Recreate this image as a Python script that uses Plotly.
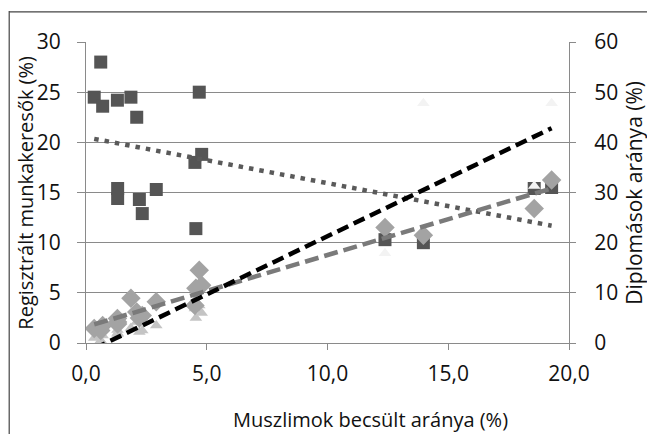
import numpy as np
import plotly.graph_objects as go

# --- data -------------------------------------------------------------
muszlim_x = [0.34, 0.61, 0.69, 1.30, 1.31, 1.31, 1.86, 2.10, 2.21, 2.33,
             2.91, 4.51, 4.55, 4.69, 4.79, 12.38, 13.97, 18.56, 19.28]
munkakereso = [24.5, 28.0, 23.6, 24.2, 15.4, 14.4, 24.5, 22.5, 14.3, 12.9,
               15.3, 18.0, 11.4, 25.0, 18.8, 10.3, 10.0, 15.4, 15.5]
diplomas_a = [2.9, 2.5, 3.5, 4.9, 3.8, 4.2, 8.9, 6.2, 5.0, 5.5,
              8.2, 7.5, 10.9, 14.5, 11.5, 23.0, 21.5, 26.8, 32.5]
diplomas_b = [1.0, 0.5, 1.5, 2.6, 1.8, 2.0, 3.0, 4.2, 2.2, 2.5,
              3.5, 6.9, 5.0, 7.5, 6.0, 17.9, 47.8, 31.3, 47.8]

x_ticks = [0, 5, 10, 15, 20]

x_title = "Muszlimok becsült aránya (%)"
y_title = "Regisztrált munkakeresők (%)"
y2_title = "Diplomások aránya (%)"

FONT = "Open Sans"


def trend(xs, ys):
    xs = np.asarray(xs, float)
    ys = np.asarray(ys, float)
    k, b = np.polyfit(xs, ys, 1)
    xx = np.array([xs.min(), xs.max()])
    return xx, k * xx + b


fig = go.Figure()

fig.add_trace(go.Scatter(
    x=muszlim_x, y=diplomas_b, yaxis="y2", mode="markers",
    marker=dict(symbol="triangle-up", size=11,
                color=["#c4c4c4" if v < 10 else "#f3f3f3" for v in muszlim_x],
                line=dict(width=0)),
    showlegend=False))
fig.add_trace(go.Scatter(
    x=muszlim_x, y=diplomas_a, yaxis="y2", mode="markers",
    marker=dict(symbol="diamond", size=15, color="#a3a3a3", line=dict(width=0)),
    showlegend=False))
fig.add_trace(go.Scatter(
    x=muszlim_x, y=munkakereso, yaxis="y", mode="markers",
    marker=dict(symbol="square", size=13, color="#555555", line=dict(width=0)),
    showlegend=False))

tx, ty = trend(muszlim_x, munkakereso)
fig.add_trace(go.Scatter(x=tx, y=ty, yaxis="y", mode="lines",
                         line=dict(color="#5a5a5a", width=4.5, dash="4.5px,6px"),
                         showlegend=False))
tx, ty = trend(muszlim_x, diplomas_a)
fig.add_trace(go.Scatter(x=tx, y=ty, yaxis="y2", mode="lines",
                         line=dict(color="#7a7a7a", width=4.5, dash="14px,6px"),
                         showlegend=False))
tx, ty = trend(muszlim_x, diplomas_b)
fig.add_trace(go.Scatter(x=tx, y=ty, yaxis="y2", mode="lines",
                         line=dict(color="#000000", width=4.5, dash="12px,6px"),
                         showlegend=False))

axis_font = dict(family=FONT, size=21, color="#111111")
title_font = dict(family=FONT, size=20, color="#111111")
title2_font = dict(family=FONT, size=21, color="#111111")

fig.update_layout(
    width=647, height=434,
    margin=dict(l=86, r=78, t=42, b=91),
    paper_bgcolor="white", plot_bgcolor="white",
    separators=", ",
    xaxis=dict(range=[0, 20], tickvals=x_ticks, tickformat=".1f",
               showgrid=False, zeroline=False,
               showline=True, linecolor="#8a8a8a", linewidth=1,
               ticks="outside", ticklen=6, tickcolor="#8a8a8a",
               ticklabelstandoff=6,
               tickfont=axis_font),
    yaxis=dict(range=[0, 30], dtick=5,
               showgrid=True, gridcolor="#8a8a8a", gridwidth=1,
               zeroline=False, showline=True, linecolor="#8a8a8a", linewidth=1,
               ticks="outside", ticklen=8, tickcolor="#8a8a8a",
               ticklabelstandoff=12,
               tickfont=axis_font),
    yaxis2=dict(range=[0, 60], dtick=10, overlaying="y", side="right",
                showgrid=False, zeroline=False,
                showline=True, linecolor="#8a8a8a", linewidth=1,
                ticks="outside", ticklen=6, tickcolor="#8a8a8a",
                ticklabelstandoff=14,
                tickfont=axis_font),
    annotations=[
        dict(text=x_title, xref="paper", yref="paper", x=0.59, y=-0.255,
             xanchor="center", yanchor="middle", showarrow=False,
             font=title_font),
        dict(text=y_title, xref="paper", yref="paper", x=-0.126, y=0.5,
             xanchor="center", yanchor="middle", textangle=-90,
             showarrow=False, font=title_font),
        dict(text=y2_title, xref="paper", yref="paper", x=1.133, y=0.5,
             xanchor="center", yanchor="middle", textangle=-90,
             showarrow=False, font=title2_font),
    ],
    shapes=[
        dict(type="line", xref="paper", yref="paper",
             x0=-0.159, x1=-0.159, y0=-0.31, y1=1.103,
             line=dict(color="#444444", width=1.2)),
        dict(type="line", xref="paper", yref="paper",
             x0=-0.159, x1=1.17, y0=1.1, y1=1.1,
             line=dict(color="#444444", width=1.2)),
    ],
)

fig.write_html("out.html", config={"displayModeBar": False})

# remove the default page margin so the figure sits at the window origin
with open("out.html", encoding="utf-8") as fh:
    html = fh.read()
html = html.replace("<body>", '<body style="margin:0;overflow:hidden">', 1)
with open("out.html", "w", encoding="utf-8") as fh:
    fh.write(html)
